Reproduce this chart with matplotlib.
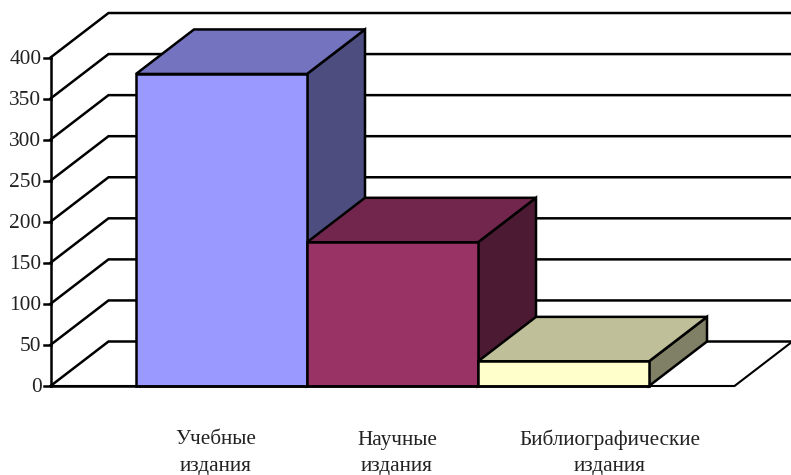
import numpy as np
import matplotlib
matplotlib.use("Agg")
import matplotlib.pyplot as plt
from matplotlib.patches import Polygon

categories = ["Учебные\nиздания", "Научные\nиздания", "Библиографические\nиздания"]
values = [380, 175, 30]
y_ticks = [0, 50, 100, 150, 200, 250, 300, 350, 400]

front_colors = ["#9999FF", "#993366", "#FFFFCC"]
top_colors = ["#7373BF", "#73264D", "#BFBF99"]
side_colors = ["#4D4D80", "#4D1A33", "#808066"]

W, H = 791, 475
px_x = 171.0          # pixels per category
px_y = 41.06 / 50     # pixels per unit
x0_px, y0_px = 50.5, 386.0
depth_x = 58 / px_x
depth_y = 44.5 / px_y

plt.rcParams["font.family"] = ["Liberation Serif", "DejaVu Serif"]

fig = plt.figure(figsize=(W / 100, H / 100), dpi=100)
ax = fig.add_axes([0, 0, 1, 1])
ax.set_xlim(-1 - x0_px / px_x, -1 + (W - x0_px) / px_x)
ax.set_ylim(-(H - y0_px) / px_y, y0_px / px_y)
ax.axis("off")

lw = 1.8
x_left, x_right = -1, 3

# gridlines running along the side and back wall
for v in y_ticks:
    ax.plot([x_left, x_left + depth_x, x_right + depth_x],
            [v, v + depth_y, v + depth_y], color="black", lw=lw, zorder=1,
            solid_joinstyle="miter")

# floor
ax.plot([x_left, x_right, x_right + depth_x],
        [0, 0, depth_y], color="black", lw=1.5, zorder=1)

# left axis and ticks
ax.plot([x_left, x_left], [0, max(y_ticks)], color="black", lw=lw, zorder=5)
tick_len = 7 / px_x
text_shift = 1.5 / px_y
for v in y_ticks:
    ax.plot([x_left - tick_len, x_left], [v, v], color="black", lw=lw, zorder=5)
    ax.text(x_left - 9 / px_x, v - text_shift, str(v), ha="right", va="center", fontsize=15.4,
            color="#222222")

# bars
for i, v in enumerate(values):
    l, r = i - 0.5, i + 0.5
    ax.add_patch(Polygon([(r, 0), (r + depth_x, depth_y), (r + depth_x, v + depth_y), (r, v)],
                         closed=True, fc=side_colors[i], ec="black", lw=lw, zorder=2 + i * 0.1,
                         joinstyle="miter"))
    ax.add_patch(Polygon([(l, v), (l + depth_x, v + depth_y), (r + depth_x, v + depth_y), (r, v)],
                         closed=True, fc=top_colors[i], ec="black", lw=lw, zorder=2 + i * 0.1,
                         joinstyle="miter"))
    ax.add_patch(Polygon([(l, 0), (r, 0), (r, v), (l, v)],
                         closed=True, fc=front_colors[i], ec="black", lw=lw, zorder=2.05 + i * 0.1,
                         joinstyle="miter"))

# base line in front of the bars
ax.plot([x_left, 2.5], [0, 0], color="black", lw=lw, zorder=4)

# category labels
label_y = (y0_px - 470.5) / px_y
label_x = [216, 397, 610]
for name, lx in zip(categories, label_x):
    ax.text(-1 + (lx - x0_px) / px_x, label_y, name, ha="center", va="baseline", fontsize=15.3,
            linespacing=1.5, color="#222222")

fig.savefig("out.png", dpi=100)
